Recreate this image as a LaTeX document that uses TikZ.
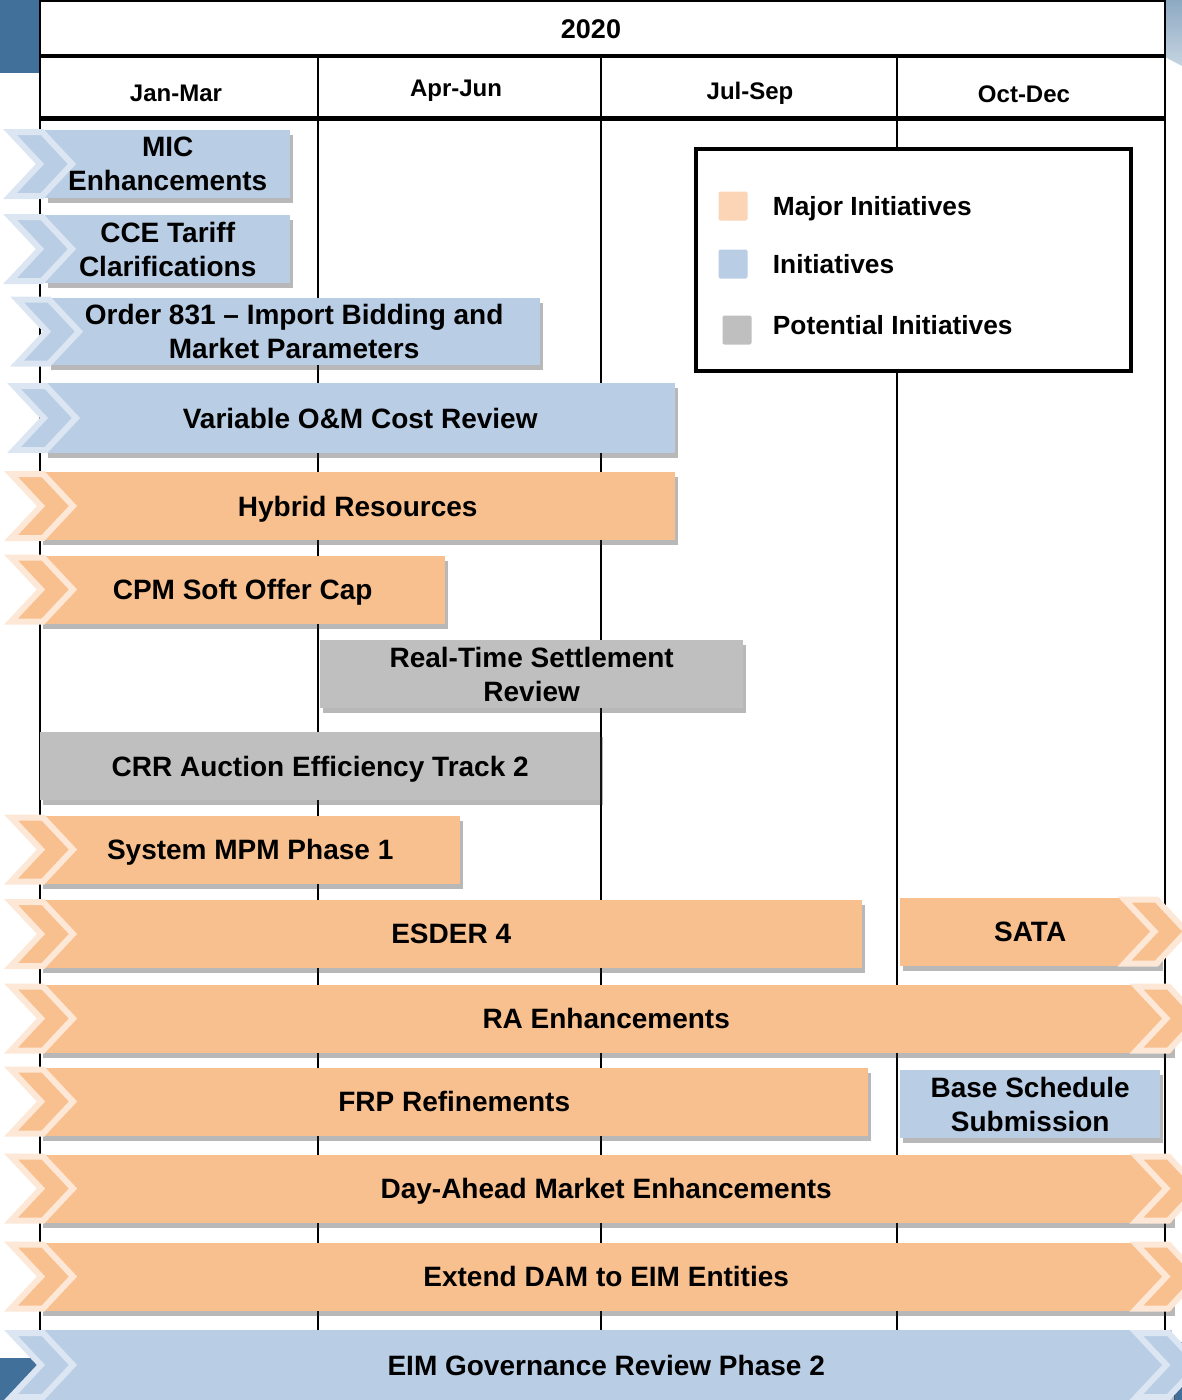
\documentclass[tikz,border=0pt]{standalone}
\usepackage{fontspec}
\setmainfont{Liberation Sans}
\usetikzlibrary{shadows,positioning}
\definecolor{majorfill}{HTML}{F9C08F}
\definecolor{majoredge}{HTML}{FDE7D6}
\definecolor{initfill}{HTML}{B9CDE5}
\definecolor{initedge}{HTML}{DCE6F2}
\definecolor{potfill}{HTML}{BFBFBF}
\definecolor{majorkey}{HTML}{FBD5B5}
\definecolor{cornerblue}{HTML}{41709A}
\tikzset{
  bar/.style={
    anchor=west,
    minimum width=#1,
    minimum height=68pt,
    inner sep=0pt,
    align=center,
    text depth=0pt,
    font=\fontsize{28}{34}\selectfont\bfseries,
    drop shadow={shadow xshift=3pt,shadow yshift=-5pt,opacity=0.35,fill=black!80}
  },
  major/.style={bar=#1, fill=majorfill},
  init/.style={bar=#1, fill=initfill},
  potential/.style={bar=#1, fill=potfill},
  chevron/.pic={
    \path[pic actions] (0,-32) -- (32,-32) -- (62,0) -- (32,32) -- (0,32) -- (30,0) -- cycle;
  },
  chevmajor/.style={draw=majoredge, fill=majorfill, line width=6pt},
  chevinit/.style={draw=initedge, fill=initfill, line width=6pt},
  head/.style={font=\fontsize{27}{33}\selectfont\bfseries, inner sep=0pt},
  quarter/.style={font=\fontsize{24}{28}\selectfont\bfseries, inner sep=0pt, text depth=0pt},
  key/.style={minimum size=29pt, inner sep=0pt, rounded corners=2pt},
  keytext/.style={font=\fontsize{26.3}{30}\selectfont\bfseries, inner sep=0pt, text depth=0pt}
}
\begin{document}
\begin{tikzpicture}[x=1pt, y=-1pt]
  \useasboundingbox (0,0) rectangle (1182,1400);
  \clip (0,0) rectangle (1182,1400);

  % slide corners
  \fill[cornerblue] (0,0) rectangle (40,73);
  \fill[cornerblue] (0,1358) rectangle (40,1400);
  \fill[cornerblue] (1174,1342) rectangle (1182,1400);
  \shade[top color=cornerblue!60, bottom color=cornerblue!30] (1165,0) -- (1182,0) -- (1182,66) -- (1165,57) -- cycle;

  % time grid
  \draw[line width=1.2pt] (40,1330) -- (40,1) -- (1165,1) -- (1165,1330);
  \draw[line width=4pt] (40,56) -- (1165,56);
  \draw[line width=5pt] (40,118) -- (1165,118);
  \foreach \x in {318,601,897}
    \draw[line width=2pt] (\x,56) -- (\x,1330);

  \node[head] (year) at (591,29) {2020};
  \node[quarter] (q1) at (176,93) {Jan-Mar};
  \node[quarter] (q2) at (456,88) {Apr-Jun};
  \node[quarter] (q3) at (750,91) {Jul-Sep};
  \node[quarter] (q4) at (1024,94) {Oct-Dec};

  % legend
  \node[draw, fill=white, line width=4pt, minimum width=435pt, minimum height=222pt] (legend) at (913.5,260) {};
  \node[key, fill=majorkey] (kmajor) at (733,206) {};
  \node[key, fill=initfill] (kinit) at (733,264) {};
  \node[key, fill=potfill] (kpot) at (737,330) {};
  \node[keytext, right=25pt of kmajor] (lmajor) {Major Initiatives};
  \node[keytext, right=25pt of kinit] (linit) {Initiatives};
  \node[keytext, right=21pt of kpot, yshift=5pt] (lpot) {Potential Initiatives};

  % initiatives
  \node[init=245pt] (mic) at (45,164) {MIC\\Enhancements};
  \node[init=245pt] (cce) at (45,249) {CCE Tariff\\Clarifications};
  \node[init=492pt, minimum height=67pt] (order) at (48,331.5) {Order 831 -- Import Bidding and\\Market Parameters};
  \node[init=630pt, minimum height=70pt] (vom) at (45,418) {Variable O\&M Cost Review};
  \node[major=635pt] (hybrid) at (40,506) {Hybrid Resources};
  \node[major=405pt] (cpm) at (40,589.5) {CPM Soft Offer Cap};
  \node[potential=423pt] (rts) at (320,674) {Real-Time Settlement\\Review};
  \node[potential=560pt] (crr) at (40,766) {CRR Auction Efficiency Track 2};
  \node[major=420pt] (mpm) at (40,849.5) {System MPM Phase 1};
  \node[major=822pt] (esder) at (40,934) {ESDER 4};
  \node[major=260pt] (sata) at (900,931.5) {SATA};
  \node[major=1132pt] (ra) at (40,1018.5) {RA Enhancements};
  \node[major=828pt] (frp) at (40,1101.5) {FRP Refinements};
  \node[init=260pt] (bss) at (900,1104) {Base Schedule\\Submission};
  \node[major=1132pt] (dam) at (40,1188.5) {Day-Ahead Market Enhancements};
  \node[major=1132pt] (extdam) at (40,1276.5) {Extend DAM to EIM Entities};
  \node[init=1132pt, minimum height=70pt] (eimgov) at (40,1365) {EIM Governance Review Phase 2};

  % chevrons
  \foreach \n in {mic,cce}
    \pic[chevinit] at ([xshift=-35pt]\n.west) {chevron};
  \foreach \n in {order,vom}
    \pic[chevinit] at ([xshift=-31pt]\n.west) {chevron};
  \foreach \n in {hybrid,cpm,mpm,esder,ra,frp,dam,extdam}
    \pic[chevmajor] at ([xshift=-29pt]\n.west) {chevron};
  \pic[chevinit] at ([xshift=-29pt]eimgov.west) {chevron};
  \foreach \n in {sata,ra,dam,extdam}
    \pic[chevmajor] at ([xshift=-36pt]\n.east) {chevron};
  \pic[chevinit] at ([xshift=-36pt]eimgov.east) {chevron};
\end{tikzpicture}
\end{document}
